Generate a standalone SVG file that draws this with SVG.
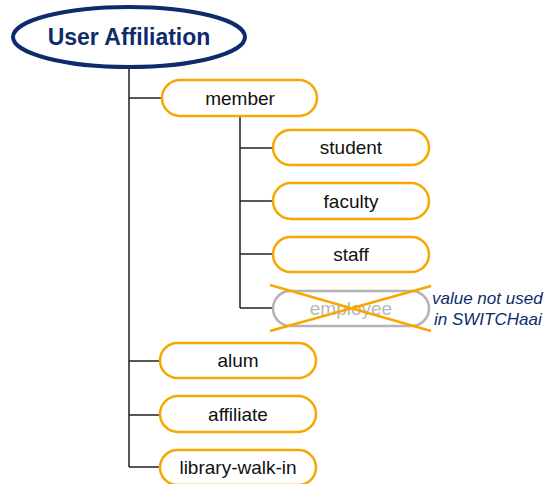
<svg xmlns="http://www.w3.org/2000/svg" width="547" height="484" viewBox="0 0 547 484">
<style>
.box{fill:#fff;stroke:#f6a800;stroke-width:2.5}
.off{fill:#fff;stroke:#b3b3b3;stroke-width:2.5}
.lbl{font-family:"Liberation Sans",Arial,sans-serif;font-size:19px;fill:#111;text-anchor:middle}
.con{stroke:#222;stroke-width:1.5;fill:none}
.x{stroke:#f6a800;stroke-width:2.5}
</style>
<rect width="547" height="484" fill="#fff"/>
<g id="connectors">
<path class="con" d="M129 67V467M129 98H162M129 361H160M129 415H160M129 467H160"/>
<path class="con" d="M240 116V308M240 148H273M240 201H273M240 254H273M240 308H273"/>
</g>
<g id="root">
<ellipse cx="129" cy="37" rx="116" ry="30" fill="#fff" stroke="#0d2c6c" stroke-width="4"/>
<text x="129" y="45" font-family="'Liberation Sans',Arial,sans-serif" font-size="23" font-weight="bold" fill="#0d2c6c" text-anchor="middle">User Affiliation</text>
</g>
<g id="member"><rect class="box" x="162" y="80" width="155" height="36" rx="18"/><text class="lbl" x="240" y="105">member</text></g>
<g id="student"><rect class="box" x="273" y="130" width="156" height="35" rx="17.5"/><text class="lbl" x="351" y="154">student</text></g>
<g id="faculty"><rect class="box" x="273" y="183" width="156" height="36" rx="18"/><text class="lbl" x="351" y="208">faculty</text></g>
<g id="staff"><rect class="box" x="273" y="237" width="156" height="35" rx="17.5"/><text class="lbl" x="351" y="261">staff</text></g>
<g id="employee">
<rect class="off" x="273" y="291" width="156" height="35" rx="17.5"/>
<text class="lbl" x="351" y="315" fill="#b8b8b8" style="fill:#b8b8b8">employee</text>
<line class="x" x1="270" y1="285" x2="431" y2="331"/>
<line class="x" x1="270" y1="331" x2="431" y2="286"/>
</g>
<g id="note">
<text font-family="'Liberation Sans',Arial,sans-serif" font-size="17" font-style="italic" fill="#0d2c6c"><tspan x="432" y="304">value not used</tspan><tspan x="434" y="325">in SWITCHaai</tspan></text>
</g>
<g id="alum"><rect class="box" x="160" y="343" width="156" height="35" rx="17.5"/><text class="lbl" x="238" y="367">alum</text></g>
<g id="affiliate"><rect class="box" x="160" y="396" width="156" height="36" rx="18"/><text class="lbl" x="238" y="421">affiliate</text></g>
<g id="library-walk-in"><rect class="box" x="160" y="450" width="156" height="35" rx="17.5"/><text class="lbl" x="238" y="474">library-walk-in</text></g>
</svg>
